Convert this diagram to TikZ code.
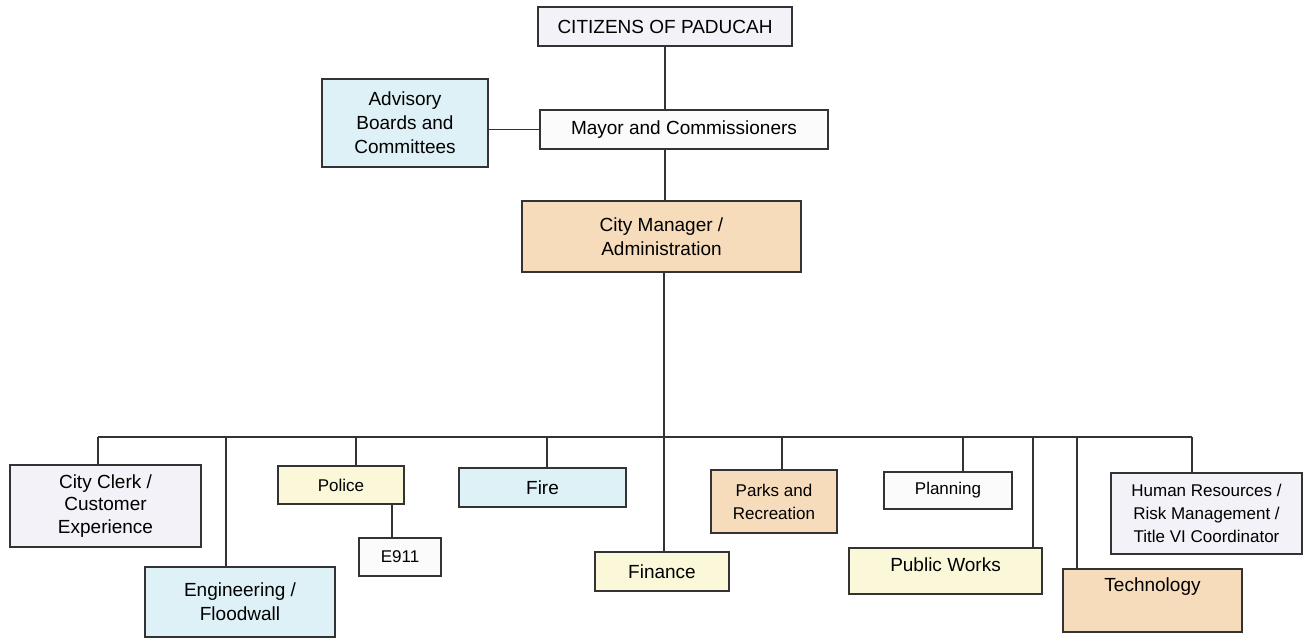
\documentclass[tikz,border=0pt]{standalone}
\usepackage{fontspec}
\setmainfont{Liberation Sans}
\usetikzlibrary{calc}
\definecolor{lav}{HTML}{F2F2F8}
\definecolor{lblue}{HTML}{DEF1F7}
\definecolor{peach}{HTML}{F6DCBA}
\definecolor{lyel}{HTML}{FAF8D8}
\definecolor{wht}{HTML}{FBFBFB}
\definecolor{ink}{HTML}{333333}
\begin{document}
\begin{tikzpicture}[x=1pt,y=-1pt,
  orgbox/.style={draw=ink, line width=1.3pt, inner sep=0pt, align=center,
    font=\fontsize{19}{24}\selectfont, text=black},
  small/.style={font=\fontsize{17}{23}\selectfont},
  link/.style={draw=ink, line width=1.3pt},
  sz/.style 2 args={minimum width=#1pt, minimum height=#2pt}]
\useasboundingbox[fill=white] (0,0) rectangle (1304,639);
% top
\node[orgbox, fill=lav, sz={254}{39}] (cit) at (665,26.5) {CITIZENS OF PADUCAH};
\node[orgbox, fill=wht, sz={288}{39}] (may) at (684,129.5) {Mayor and Commissioners};
\node[orgbox, fill=lblue, sz={166}{88}] (adv) at (405,123) {Advisory\\Boards and\\Committees};
\node[orgbox, fill=peach, sz={279}{71}] (mgr) at (661.5,236.5) {City Manager /\\Administration};
% departments
\node[orgbox, fill=lav, sz={191}{82}, font=\fontsize{19}{22.5}\selectfont] (clerk) at (105.5,506) {City Clerk /\\Customer\\Experience};
\node[orgbox, fill=lblue, sz={190}{70}] (eng) at (240,602) {Engineering /\\Floodwall};
\node[orgbox, fill=lyel, sz={126}{38}, small] (pol) at (341,485) {Police};
\node[orgbox, fill=wht, sz={82}{38}, small] (e911) at (400,557) {E911};
\node[orgbox, fill=lblue, sz={167}{39}] (fire) at (542.5,487.5) {Fire};
\node[orgbox, fill=lyel, sz={134}{39}] (fin) at (662,571.5) {Finance};
\node[orgbox, fill=peach, sz={126}{63}, small] (parks) at (774,501.5) {Parks and\\Recreation};
\node[orgbox, fill=wht, sz={128}{37}, small] (plan) at (948,490.5) {Planning};
\node[orgbox, fill=lyel, sz={193}{46}] (pw) at (945.5,571) {};
\node[font=\fontsize{19}{24}\selectfont, text=black] (pwlbl) at (945.5,565) {Public Works};
\node[orgbox, fill=peach, sz={179}{63}] (tech) at (1152.5,600.5) {};
\node[font=\fontsize{19}{24}\selectfont, text=black] (techlbl) at (1152.5,587) {Technology};
\node[orgbox, fill=lav, sz={191}{81}, small] (hr) at (1206.5,513.5) {Human Resources /\\Risk Management /\\Title VI Coordinator};
% bus coordinates
\coordinate (bclerk) at (98,437);
\coordinate (beng) at (226,437);
\coordinate (bpol) at (356,437);
\coordinate (bfire) at (547,437);
\coordinate (btrunk) at (664,437);
\coordinate (bparks) at (782,437);
\coordinate (bplan) at (963,437);
\coordinate (bpw) at (1033,437);
\coordinate (btech) at (1077,437);
\coordinate (bhr) at (1192,437);
\coordinate (pdrop) at (392,504);
% connectors
\draw[link] (cit.south) -- (cit.south |- may.north);
\draw[link] (may.south -| cit.south) -- (mgr.north -| cit.south);
\draw[link] (may.west) -- (may.west -| adv.east);
\draw[link] (mgr.south -| btrunk) -- (fin.north -| btrunk);
\draw[link] (bclerk) -- (bhr);
\draw[link] (bclerk) -- (clerk.north -| bclerk);
\draw[link] (beng) -- (eng.north -| beng);
\draw[link] (bpol) -- (pol.north -| bpol);
\draw[link] (bfire) -- (fire.north -| bfire);
\draw[link] (bparks) -- (parks.north -| bparks);
\draw[link] (bplan) -- (plan.north -| bplan);
\draw[link] (bpw) -- (pw.north -| bpw);
\draw[link] (btech) -- (tech.north -| btech);
\draw[link] (bhr) -- (hr.north -| bhr);
\draw[link] (pol.south -| pdrop) -- (e911.north -| pdrop);
\end{tikzpicture}
\end{document}
